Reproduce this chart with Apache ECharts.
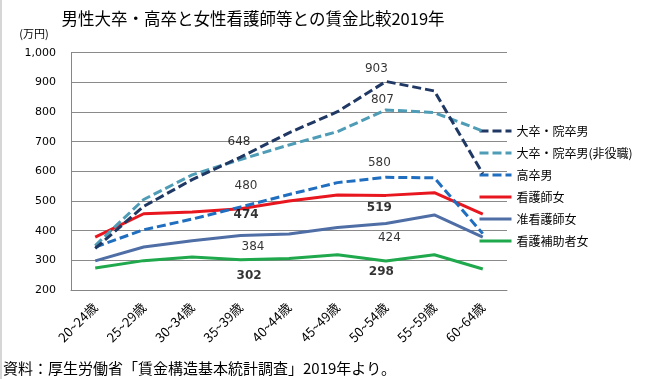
<!DOCTYPE html>
<html>
<head>
<meta charset="utf-8">
<script src="https://cdn.jsdelivr.net/npm/echarts@6/dist/echarts.min.js"></script>
<style>
html,body{margin:0;padding:0;background:#fff;}
#c{width:648px;height:379px;}
</style>
</head>
<body>
<div id="c"></div>
<script>
// ---- data ----
const categories = ['20~24歳','25~29歳','30~34歳','35~39歳','40~44歳','45~49歳','50~54歳','55~59歳','60~64歳'];
const seriesNames = ['大卒・院卒男','大卒・院卒男(非役職)','高卒男','看護師女','准看護師女','看護補助者女'];
const daigakuMale   = [340, 482, 572, 648, 730, 801, 903, 871, 592];
const hiyakushoku   = [350, 505, 588, 640, 689, 734, 807, 798, 736];
const kousotsuMale  = [345, 403, 439, 480, 522, 562, 580, 578, 390];
const kangoshi      = [378, 457, 463, 474, 500, 520, 519, 528, 456];
const junKangoshi   = [298, 345, 366, 384, 389, 411, 424, 453, 378];
const kangoHojo     = [274, 299, 311, 302, 306, 319, 298, 319, 271];
const yTicks = [200, 300, 400, 500, 600, 700, 800, 900, 1000];
const titleText = '男性大卒・高卒と女性看護師等との賃金比較2019年';
const unitText = '(万円)';
const sourceText = '資料：厚生労働省「賃金構造基本統計調査」2019年より。';

const allValues = [daigakuMale, hiyakushoku, kousotsuMale, kangoshi, junKangoshi, kangoHojo];
const colors = ['#203864', '#4e9cb6', '#1f6ebf', '#e8161e', '#4f6ea6', '#1fa84c'];
const dashed = [true, true, true, false, false, false];

// labelled points: [series index, category index, dx, dy, bold]
const labelSpecs = [
  [0, 3, -1, -15, false], [0, 6, -9, -12, false],
  [1, 6, -3, -10, false],
  [2, 3, 6, -21, false], [2, 6, -6, -14, false],
  [3, 3, 6, 7, true], [3, 6, -6, 13, true],
  [4, 3, 13, 12, false], [4, 6, 4, 15, false],
  [5, 3, 9, 17, true], [5, 6, -4, 11, true]
];

const lineSeries = seriesNames.map((n, k) => ({
  name: n,
  type: 'line',
  data: allValues[k],
  symbol: 'none',
  z: 10 - k,
  lineStyle: { color: colors[k], width: 3, type: dashed[k] ? [9, 4] : 'solid', cap: 'butt' },
  itemStyle: { color: colors[k] },
  animation: false
}));

const labelSeries = {
  type: 'scatter',
  symbolSize: 1,
  itemStyle: { color: 'rgba(0,0,0,0)' },
  silent: true,
  z: 20,
  animation: false,
  data: labelSpecs.map(s => {
    const v = allValues[s[0]][s[1]];
    return {
      value: [s[1], v],
      label: {
        show: true,
        formatter: String(v),
        position: [s[2], s[3]],
        align: 'center',
        verticalAlign: 'middle',
        color: '#000',
        fontSize: 12,
        fontWeight: s[4] ? 'bold' : 'normal',
        fontFamily: 'DejaVu Sans'
      }
    };
  })
};

const chart = echarts.init(document.getElementById('c'), null, { renderer: 'canvas' });
chart.setOption({
  animation: false,
  backgroundColor: '#fff',
  grid: { left: 71, right: 141, top: 52.7, bottom: 89, containLabel: false },
  legend: {
    data: seriesNames,
    orient: 'vertical',
    left: 478,
    top: 125,
    padding: 0,
    itemWidth: 32,
    itemHeight: 14,
    itemGap: 10,
    itemStyle: { opacity: 0 },
    lineStyle: { width: 3 },
    textStyle: { fontSize: 12, color: '#000', fontFamily: 'Noto Sans CJK JP' },
    selectedMode: false
  },
  xAxis: {
    type: 'category',
    data: categories,
    boundaryGap: true,
    axisLine: { lineStyle: { color: '#868686', width: 1 } },
    axisTick: { show: false },
    axisLabel: {
      rotate: 45,
      interval: 0,
      margin: 15,
      fontSize: 13,
      color: '#000',
      fontFamily: 'Noto Sans CJK JP'
    }
  },
  yAxis: {
    type: 'value',
    min: yTicks[0],
    max: yTicks[yTicks.length - 1],
    interval: 100,
    axisLine: { show: true, lineStyle: { color: '#868686', width: 1 } },
    axisTick: { show: false },
    splitLine: { lineStyle: { color: '#8a8a8a', width: 1 } },
    axisLabel: {
      margin: 15,
      fontSize: 11,
      color: '#000',
      fontFamily: 'DejaVu Sans',
      formatter: v => v.toLocaleString('en-US')
    }
  },
  graphic: [
    { type: 'rect', shape: { x: 0, y: 0, width: 2, height: 379 }, style: { fill: '#d6d6d6' }, silent: true },
    { type: 'text', x: 253, y: 19, style: { text: titleText, fontSize: 16.5, fontFamily: 'Noto Sans CJK JP', fill: '#000', align: 'center', verticalAlign: 'middle' } },
    { type: 'text', x: 34, y: 34, style: { text: unitText, fontSize: 11, fontFamily: 'Noto Sans CJK JP', fill: '#000', align: 'center', verticalAlign: 'middle' } },
    { type: 'text', x: 3, y: 368, style: { text: sourceText, fontSize: 15, fontFamily: 'Noto Sans CJK JP', fill: '#000', align: 'left', verticalAlign: 'middle' } }
  ],
  series: lineSeries.concat([labelSeries])
});
</script>
</body>
</html>
